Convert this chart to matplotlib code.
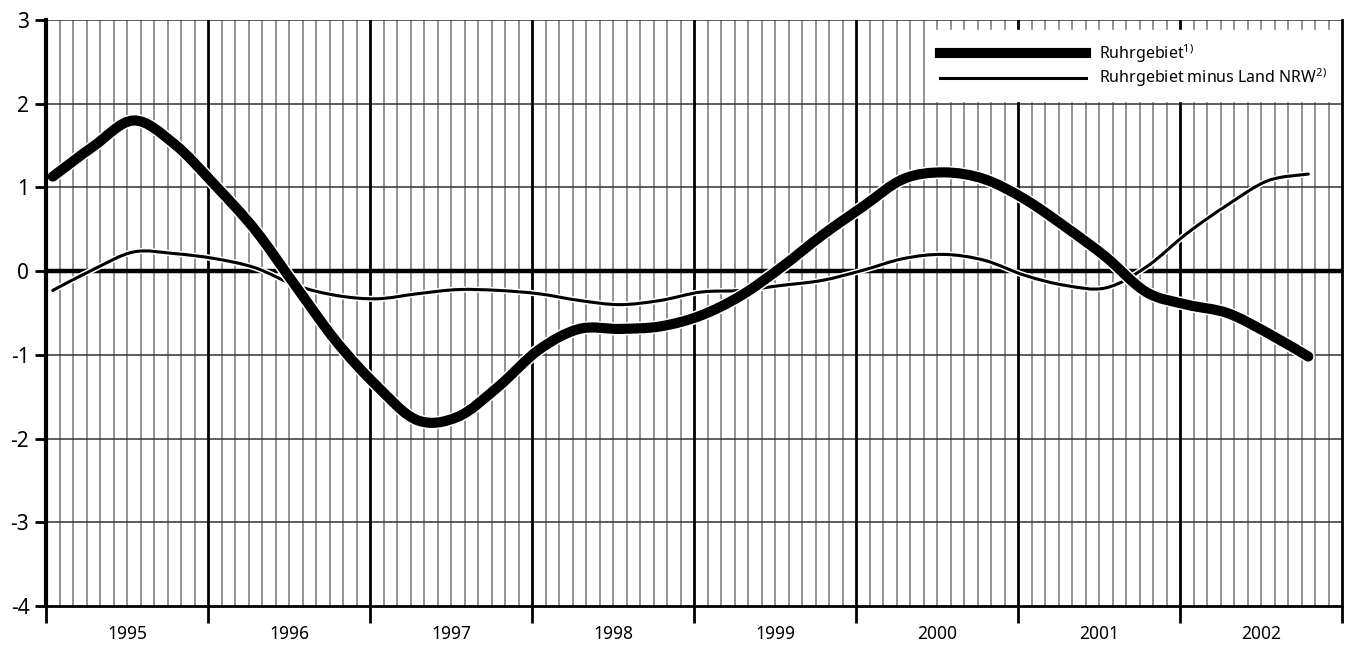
import matplotlib.pyplot as plt
import matplotlib.patheffects as pe
from matplotlib.path import Path
from matplotlib.patches import PathPatch
from matplotlib.lines import Line2D
import numpy as np

plt.rcParams['font.family'] = ['Noto Sans', 'DejaVu Sans']

# Quarterly values, Q1 1995 .. Q4 2002
years = [1995, 1996, 1997, 1998, 1999, 2000, 2001, 2002]
ruhr = [1.13, 1.49, 1.80, 1.52, 1.03, 0.49, -0.18, -0.84,
        -1.37, -1.78, -1.74, -1.38, -0.94, -0.69, -0.69, -0.66,
        -0.53, -0.29, 0.05, 0.43, 0.77, 1.10, 1.18, 1.10,
        0.86, 0.53, 0.17, -0.25, -0.40, -0.50, -0.74, -1.02]
ruhr_minus_nrw = [-0.23, 0.02, 0.23, 0.21, 0.15, 0.04, -0.17, -0.29,
                  -0.33, -0.27, -0.22, -0.23, -0.27, -0.35, -0.40, -0.35,
                  -0.25, -0.23, -0.17, -0.11, 0.01, 0.15, 0.20, 0.13,
                  -0.05, -0.17, -0.20, 0.05, 0.45, 0.79, 1.08, 1.16]
labels = ['Ruhrgebiet$^{\\mathregular{1)}}$',
          'Ruhrgebiet minus Land NRW$^{\\mathregular{2)}}$']

# x position of each quarter (in years)
x = years[0] + (0.5 + 3 * np.arange(len(ruhr))) / 12.0


def smooth_path(xs, ys):
    # Catmull-Rom style smoothing rendered as cubic Bezier segments
    pts = np.column_stack([xs, ys])
    n = len(pts)
    verts = [pts[0]]
    codes = [Path.MOVETO]
    for i in range(n - 1):
        p0 = pts[max(i - 1, 0)]
        p1 = pts[i]
        p2 = pts[i + 1]
        p3 = pts[min(i + 2, n - 1)]
        c1 = p1 + (p2 - p0) / 6.0
        c2 = p2 - (p3 - p1) / 6.0
        verts += [c1, c2, p2]
        codes += [Path.CURVE4] * 3
    return Path(verts, codes)


fig = plt.figure(figsize=(13.5, 6.48), dpi=100)
ax = fig.add_axes([0.0341, 0.0648, 0.9600, 0.9043])

x0, x1 = years[0], years[-1] + 1
ax.set_xlim(x0, x1)
ax.set_ylim(-4, 3)

# month grid
for m in range(1, 12 * len(years)):
    if m % 12 != 0:
        ax.axvline(x0 + m / 12.0, color='#808080', lw=1.2, zorder=1)
# year grid
for yr in years[1:]:
    ax.axvline(yr, color='black', lw=2.0, zorder=1.5)
# horizontal grid
for yv in range(-3, 4):
    ax.axhline(yv, color='#333333', lw=1.1, zorder=1.2)
ax.axhline(0, color='black', lw=3.2, zorder=1.6)

halo = lambda w: [pe.Stroke(linewidth=w + 2.2, foreground='white'), pe.Normal()]

thick = PathPatch(smooth_path(x, ruhr), fill=False, edgecolor='black',
                  lw=7.3, capstyle='round', joinstyle='round', zorder=4)
thick.set_path_effects(halo(7.3))
ax.add_patch(thick)
thin = PathPatch(smooth_path(x, ruhr_minus_nrw), fill=False, edgecolor='black',
                 lw=2.2, capstyle='round', joinstyle='round', zorder=3)
thin.set_path_effects(halo(2.2))
ax.add_patch(thin)

# spines
ax.spines['top'].set_visible(False)
ax.spines['left'].set_linewidth(3)
ax.spines['bottom'].set_linewidth(2)
ax.spines['right'].set_linewidth(2)
ax.spines['left'].set_zorder(6)
ax.spines['bottom'].set_zorder(6)

ax.set_yticks(range(-4, 4))
ax.set_yticklabels([str(v) for v in range(-4, 4)], fontsize=15)
ax.tick_params(axis='y', direction='out', length=8, width=2, pad=4)
ax.set_xticks(years + [years[-1] + 1])
ax.set_xticklabels([])
ax.tick_params(axis='x', direction='out', length=12, width=2)

for yr in years:
    ax.text(yr + 0.5, -0.033, str(yr), transform=ax.get_xaxis_transform(),
            ha='center', va='top', fontsize=12.5)

handles = [Line2D([], [], color='black', lw=7.3),
           Line2D([], [], color='black', lw=2.2)]
leg = ax.legend(handles, labels, loc='upper right', bbox_to_anchor=(0.998, 0.983),
                fontsize=11.5, frameon=True, fancybox=False, framealpha=1,
                handlelength=9.1, handletextpad=0.85, labelspacing=0.12,
                borderpad=0.75, borderaxespad=0)
leg.get_frame().set_edgecolor('white')
leg.get_frame().set_facecolor('white')
leg.set_zorder(7)

fig.savefig('out.png', dpi=100)
